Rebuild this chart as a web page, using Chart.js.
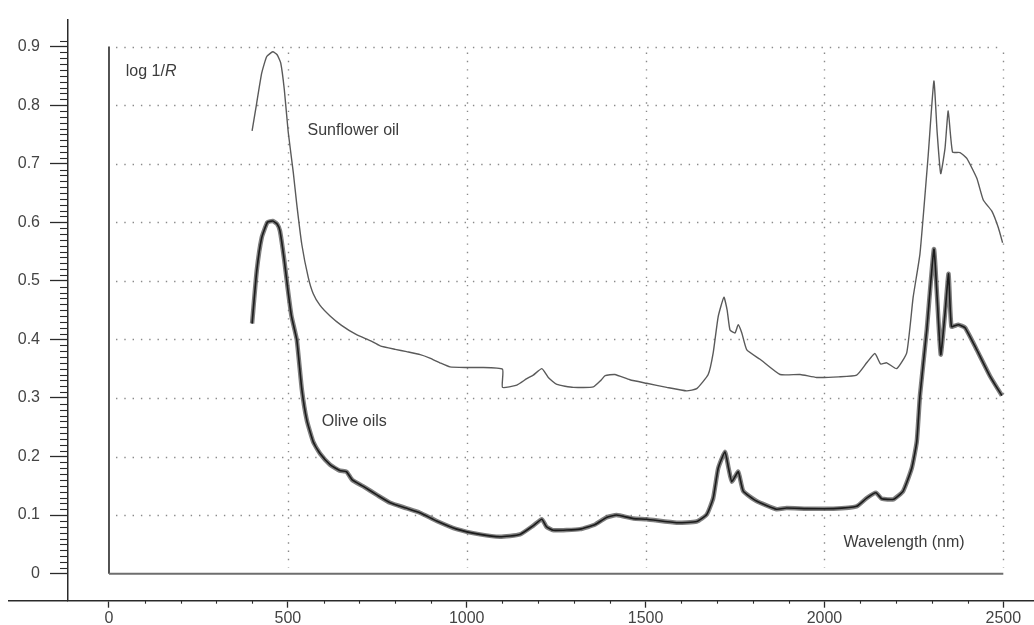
<!DOCTYPE html>
<html>
<head>
<meta charset="utf-8">
<script src="https://cdn.jsdelivr.net/npm/chart.js@4.4.1/dist/chart.umd.min.js"></script>
<style>
  html, body { margin: 0; padding: 0; background: #fff; }
  #wrap { width: 1034px; height: 625px; }
</style>
</head>
<body>
<div id="wrap"><canvas id="spectra" width="1034" height="625"></canvas></div>
<script>
// Wavelength (nm) and log 1/R
const sunflowerNm = [400, 413, 427, 441, 458, 470, 480, 490, 501, 515, 525, 539, 557, 571, 590, 618, 650, 692, 730, 758, 800, 832, 870, 897, 925, 953, 1000, 1037, 1100, 1100, 1140, 1168, 1186, 1210, 1228, 1252, 1298, 1354, 1375, 1387, 1414, 1456, 1503, 1559, 1615, 1643, 1675, 1689, 1703, 1719, 1728, 1736, 1750, 1759, 1769, 1783, 1820, 1876, 1932, 1978, 2040, 2090, 2118, 2141, 2157, 2174, 2202, 2230, 2248, 2267, 2290, 2306, 2315, 2325, 2337, 2346, 2358, 2379, 2398, 2426, 2444, 2468, 2486, 2498];
const sunflowerVal = [0.756, 0.804, 0.855, 0.883, 0.891, 0.886, 0.872, 0.827, 0.754, 0.686, 0.630, 0.562, 0.506, 0.478, 0.458, 0.440, 0.424, 0.408, 0.398, 0.389, 0.383, 0.379, 0.374, 0.368, 0.360, 0.353, 0.352, 0.352, 0.349, 0.318, 0.322, 0.333, 0.339, 0.350, 0.335, 0.323, 0.318, 0.319, 0.330, 0.338, 0.340, 0.331, 0.325, 0.318, 0.312, 0.316, 0.340, 0.377, 0.439, 0.472, 0.450, 0.416, 0.411, 0.425, 0.411, 0.382, 0.366, 0.340, 0.340, 0.335, 0.336, 0.339, 0.360, 0.376, 0.358, 0.360, 0.350, 0.377, 0.472, 0.546, 0.714, 0.841, 0.754, 0.683, 0.726, 0.790, 0.720, 0.719, 0.709, 0.675, 0.638, 0.619, 0.591, 0.565];

const oliveNm = [400, 413, 427, 443, 458, 470, 478, 490, 500, 510, 525, 539, 553, 571, 590, 618, 645, 664, 680, 711, 750, 786, 830, 869, 916, 972, 1037, 1093, 1149, 1186, 1210, 1223, 1242, 1317, 1359, 1391, 1419, 1466, 1503, 1587, 1643, 1671, 1689, 1703, 1722, 1732, 1741, 1759, 1773, 1810, 1866, 1894, 1950, 2025, 2090, 2118, 2144, 2160, 2193, 2220, 2244, 2258, 2267, 2286, 2306, 2315, 2325, 2337, 2347, 2355, 2374, 2393, 2426, 2463, 2496];
const oliveVal = [0.427, 0.517, 0.574, 0.600, 0.602, 0.597, 0.585, 0.535, 0.485, 0.440, 0.399, 0.315, 0.262, 0.225, 0.205, 0.186, 0.176, 0.174, 0.160, 0.149, 0.134, 0.121, 0.112, 0.104, 0.090, 0.076, 0.067, 0.063, 0.067, 0.082, 0.093, 0.080, 0.074, 0.076, 0.084, 0.096, 0.100, 0.094, 0.093, 0.087, 0.089, 0.101, 0.129, 0.180, 0.208, 0.180, 0.157, 0.174, 0.141, 0.124, 0.110, 0.112, 0.111, 0.111, 0.115, 0.129, 0.138, 0.128, 0.127, 0.141, 0.180, 0.225, 0.304, 0.416, 0.554, 0.472, 0.374, 0.444, 0.512, 0.422, 0.425, 0.420, 0.382, 0.337, 0.304];

const xTickValues = [0, 500, 1000, 1500, 2000, 2500];
const yTickValues = [0, 0.1, 0.2, 0.3, 0.4, 0.5, 0.6, 0.7, 0.8, 0.9];
const xGridValues = [500, 1000, 1500, 2000, 2500];
const yGridValues = [0.1, 0.2, 0.3, 0.4, 0.5, 0.6, 0.7, 0.8, 0.9];

const FONT = '"Liberation Sans", Arial, Helvetica, sans-serif';
const TEXT = '#3c3c3c';

function toPoints(xs, ys) {
  return xs.map((x, i) => ({ x: x, y: ys[i] }));
}

// dotted grid, inner frame, minor ticks and the free text labels
const decorPlugin = {
  id: 'decor',
  beforeDatasetsDraw(chart) {
    const ctx = chart.ctx;
    const xs = chart.scales.x;
    const ys = chart.scales.y;
    const x0 = xs.getPixelForValue(0);
    const x1 = xs.getPixelForValue(2500);
    const y0 = ys.getPixelForValue(0);
    const y1 = ys.getPixelForValue(0.9);

    ctx.save();
    ctx.strokeStyle = '#8a8a8a';
    ctx.lineWidth = 1.4;
    ctx.setLineDash([1.4, 6.9]);
    yGridValues.forEach(v => {
      const y = Math.round(ys.getPixelForValue(v)) + 0.5;
      ctx.beginPath();
      ctx.moveTo(x0 + 7, y);
      ctx.lineTo(x1, y);
      ctx.stroke();
    });
    xGridValues.forEach(v => {
      const x = Math.round(xs.getPixelForValue(v)) + 0.5;
      ctx.beginPath();
      ctx.moveTo(x, y1 + 6);
      ctx.lineTo(x, y0 - 6);
      ctx.stroke();
    });
    ctx.setLineDash([]);

    // inner frame
    ctx.strokeStyle = '#1a1a1a';
    ctx.lineWidth = 1.5;
    ctx.beginPath();
    ctx.moveTo(x0, y1);
    ctx.lineTo(x0, y0);
    ctx.stroke();
    ctx.strokeStyle = '#6e6e6e';
    ctx.lineWidth = 2;
    ctx.beginPath();
    ctx.moveTo(x0, y0);
    ctx.lineTo(x1, y0);
    ctx.stroke();
    ctx.restore();
  },
  afterDraw(chart) {
    const ctx = chart.ctx;
    const xs = chart.scales.x;
    const ys = chart.scales.y;
    const area = chart.chartArea;

    ctx.save();
    ctx.strokeStyle = '#2a2a2a';
    // x axis line runs on past the y axis
    ctx.lineWidth = 1.5;
    ctx.beginPath();
    ctx.moveTo(8, area.bottom);
    ctx.lineTo(area.left, area.bottom);
    ctx.stroke();

    // minor y ticks every 0.01
    ctx.lineWidth = 1.1;
    for (let i = 0; i <= 91; i++) {
      if (i % 10 === 0) continue;
      const y = Math.round(ys.getPixelForValue(i / 100)) + 0.5;
      ctx.beginPath();
      ctx.moveTo(area.left - 8, y);
      ctx.lineTo(area.left, y);
      ctx.stroke();
    }
    // minor x ticks every 100 nm
    for (let v = 100; v < 2500; v += 100) {
      if (v % 500 === 0) continue;
      const x = Math.round(xs.getPixelForValue(v)) + 0.5;
      ctx.beginPath();
      ctx.moveTo(x, area.bottom);
      ctx.lineTo(x, area.bottom + 3);
      ctx.stroke();
    }

    // labels
    ctx.fillStyle = TEXT;
    ctx.textBaseline = 'middle';
    ctx.textAlign = 'left';
    ctx.font = '16px ' + FONT;
    const lx = xs.getPixelForValue(47);
    const ly = ys.getPixelForValue(0.858);
    const pre = 'log 1/';
    ctx.fillText(pre, lx, ly);
    const w = ctx.measureText(pre).width;
    ctx.font = 'italic 16px ' + FONT;
    ctx.fillText('R', lx + w, ly);
    ctx.font = '16px ' + FONT;
    ctx.fillText('Sunflower oil', xs.getPixelForValue(555), ys.getPixelForValue(0.757));
    ctx.fillText('Olive oils', xs.getPixelForValue(595), ys.getPixelForValue(0.260));
    ctx.fillText('Wavelength (nm)', xs.getPixelForValue(2053), ys.getPixelForValue(0.053));
    ctx.restore();
  }
};

const ctx = document.getElementById('spectra').getContext('2d');
new Chart(ctx, {
  type: 'line',
  data: {
    datasets: [
      {
        label: 'Olive oils',
        data: toPoints(oliveNm, oliveVal),
        borderColor: '#1c1c1c',
        borderWidth: 1.6,
        pointRadius: 0,
        tension: 0.15
      },
      {
        label: 'Olive oils (spread)',
        data: toPoints(oliveNm, oliveVal),
        borderColor: 'rgba(95, 95, 95, 0.8)',
        borderWidth: 4.5,
        pointRadius: 0,
        tension: 0.15
      },
      {
        label: 'Sunflower oil',
        data: toPoints(sunflowerNm, sunflowerVal),
        borderColor: '#5a5a5a',
        borderWidth: 1.4,
        pointRadius: 0,
        tension: 0.15
      }
    ]
  },
  options: {
    responsive: false,
    animation: false,
    events: [],
    layout: { padding: { top: 12.7, left: 0, right: 0, bottom: 0 } },
    plugins: {
      legend: { display: false },
      tooltip: { enabled: false }
    },
    scales: {
      x: {
        type: 'linear',
        min: -114.6,
        max: 2585.8,
        afterBuildTicks(scale) { scale.ticks = xTickValues.map(v => ({ value: v })); },
        ticks: {
          autoSkip: false,
          maxRotation: 0,
          padding: 1,
          color: '#444',
          font: { family: FONT, size: 16 },
          callback: v => String(v)
        },
        grid: { drawOnChartArea: false, drawTicks: true, tickLength: 7, tickColor: '#2a2a2a', tickWidth: 1.3 },
        border: { color: '#2a2a2a', width: 1.5 },
        afterFit(scale) { scale.height = 24.3; }
      },
      y: {
        type: 'linear',
        min: -0.0462,
        max: 0.946,
        afterBuildTicks(scale) { scale.ticks = yTickValues.map(v => ({ value: v })); },
        ticks: {
          autoSkip: false,
          padding: 10,
          color: '#444',
          font: { family: FONT, size: 16 },
          callback: v => (Math.abs(v) < 1e-9 ? '0' : v.toFixed(1))
        },
        grid: { drawOnChartArea: false, drawTicks: true, tickLength: 18, tickColor: '#2a2a2a', tickWidth: 1.3 },
        border: { color: '#2a2a2a', width: 1.5 },
        afterFit(scale) { scale.width = 68; }
      }
    }
  },
  plugins: [decorPlugin]
});
</script>
</body>
</html>
